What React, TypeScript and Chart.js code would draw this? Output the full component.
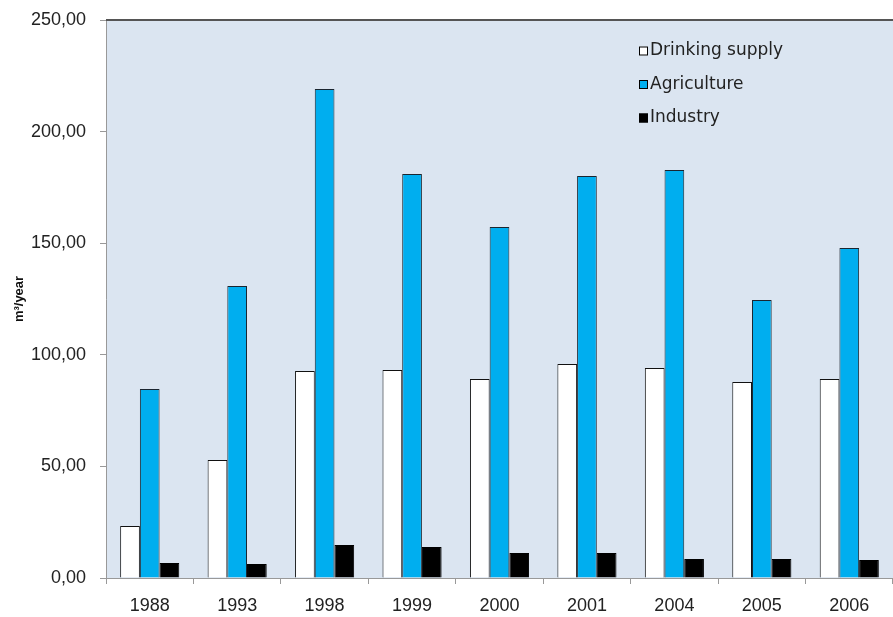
import React, { useEffect, useRef } from "react";
import { Chart, registerables } from "chart.js";

Chart.register(...registerables);

const years = ["1988", "1993", "1998", "1999", "2000", "2001", "2004", "2005", "2006"];
const drinkingSupply = [23.3, 52.9, 92.7, 93.2, 89.2, 95.9, 94.1, 87.8, 89.2];
const agriculture = [84.7, 130.8, 219.1, 181.0, 157.3, 180.1, 182.8, 124.6, 147.8];
const industry = [6.7, 6.3, 14.8, 13.9, 11.2, 11.2, 8.5, 8.5, 8.1];
const seriesNames = ["Drinking supply", "Agriculture", "Industry"];
const yTicks = [0, 50, 100, 150, 200, 250];

const plotBg = {
  id: "plotBg",
  beforeDraw(chart: any) {
    const { ctx, chartArea } = chart;
    ctx.save();
    ctx.fillStyle = "#DBE5F1";
    ctx.fillRect(chartArea.left, chartArea.top, chartArea.right - chartArea.left, chartArea.bottom - chartArea.top);
    ctx.restore();
  },
  afterDraw(chart: any) {
    const { ctx, chartArea } = chart;
    ctx.save();
    ctx.strokeStyle = "#555";
    ctx.lineWidth = 2;
    ctx.beginPath();
    ctx.moveTo(chartArea.left, chartArea.top);
    ctx.lineTo(chartArea.right, chartArea.top);
    ctx.stroke();
    // legend inside plot
    const ds = chart.data.datasets;
    ctx.font = "17px 'DejaVu Sans'";
    ctx.textBaseline = "middle";
    ctx.textAlign = "left";
    for (let i = 0; i < ds.length; i++) {
      const cy = chartArea.top + 31 + i * 33.5;
      const sx = chartArea.left + 533;
      ctx.fillStyle = ds[i].backgroundColor;
      ctx.fillRect(sx, cy - 4.5, 9, 9);
      ctx.strokeStyle = "#000";
      ctx.lineWidth = 1;
      ctx.strokeRect(sx + 0.5, cy - 4, 8, 8);
      ctx.fillStyle = "#222";
      ctx.fillText(ds[i].label, sx + 11, cy);
    }
    ctx.restore();
  },
};

export default function App() {
  const ref = useRef<HTMLCanvasElement | null>(null);
  useEffect(() => {
    if (!ref.current) return;
    const chart = new Chart(ref.current, {
      type: "bar",
      data: {
        labels: years,
        datasets: [
          { label: seriesNames[0], data: drinkingSupply, backgroundColor: "#FFFFFF", borderColor: "#111", borderWidth: 1 },
          { label: seriesNames[1], data: agriculture, backgroundColor: "#00AEEF", borderColor: "#1a2530", borderWidth: 1 },
          { label: seriesNames[2], data: industry, backgroundColor: "#000000", borderColor: "#000", borderWidth: 1 },
        ],
      },
      options: {
        animation: false,
        responsive: false,
        devicePixelRatio: 1,
        layout: { padding: { top: 20, right: 0, left: 0, bottom: 0 } },
        plugins: { legend: { display: false }, tooltip: { enabled: false } },
        datasets: { bar: { categoryPercentage: 0.676, barPercentage: 1 } },
        scales: {
          x: {
            grid: { display: true, drawOnChartArea: false, drawTicks: true, tickLength: 6, color: "#999", offset: true },
            border: { display: true, color: "#999", width: 1 },
            ticks: { font: { family: "'Liberation Sans', Arial", size: 18 }, color: "#222", padding: 11, maxRotation: 0 },
            afterFit: (s: any) => { s.height = 39; s.paddingLeft = 0; s.paddingRight = 0; },
          },
          y: {
            min: 0,
            max: 250,
            afterBuildTicks: (s: any) => { s.ticks = yTicks.map((v) => ({ value: v })); },
            grid: { display: true, drawOnChartArea: false, drawTicks: true, tickLength: 6, color: "#999" },
            border: { display: true, color: "#999", width: 1 },
            ticks: {
              font: { family: "'Liberation Sans', Arial", size: 18 },
              color: "#222",
              padding: 14,
              callback: (v: any) => Number(v).toFixed(2).replace(".", ","),
            },
            title: {
              display: true,
              text: "m³/year",
              font: { family: "'Liberation Sans', Arial", size: 13, weight: "bold" },
              color: "#111",
              padding: { top: 12, bottom: 0 },
            },
            afterFit: (s: any) => { s.width = 106; s.paddingTop = 0; s.paddingBottom = 0; },
          },
        },
      },
      plugins: [plotBg],
    } as any);
    return () => chart.destroy();
  }, []);
  return (
    <div style={{ position: "absolute", left: 0, top: 0, width: 893, height: 617, background: "#fff" }}>
      <canvas ref={ref} width={893} height={617} style={{ width: 893, height: 617 }} />
    </div>
  );
}
